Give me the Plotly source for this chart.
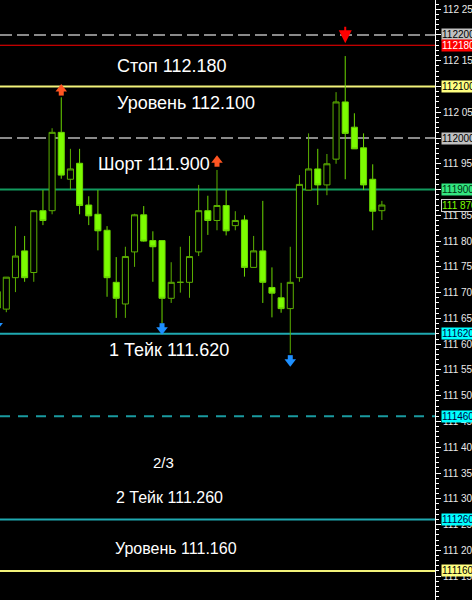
import plotly.graph_objects as go

# ---------------- data ----------------
bar_index = list(range(-1, 42))
opens = [111.702, 111.668, 111.729, 111.781, 111.739, 111.859, 111.859, 112.011, 111.920, 111.951,
         111.870, 111.852, 111.821, 111.720, 111.678, 111.779, 111.851, 111.801, 111.801, 111.689,
         111.720, 111.720, 111.779, 111.859, 111.840, 111.869, 111.830, 111.841, 111.749, 111.781,
         111.710, 111.690, 111.669, 111.729, 111.899, 111.940, 111.909, 111.959, 112.070, 112.021,
         111.981, 111.920, 111.859]
highs = [111.715, 111.730, 111.829, 111.810, 111.859, 111.899, 112.019, 112.079, 111.979, 111.979,
         111.887, 111.899, 111.829, 111.769, 111.789, 111.853, 111.868, 111.819, 111.801, 111.759,
         111.789, 111.810, 111.909, 111.888, 111.938, 111.899, 111.858, 111.850, 111.810, 111.878,
         111.749, 111.719, 111.789, 111.928, 112.009, 111.979, 111.969, 112.089, 112.159, 112.048,
         112.009, 111.949, 111.878]
lows = [111.653, 111.662, 111.701, 111.721, 111.721, 111.831, 111.852, 111.921, 111.900, 111.852,
        111.831, 111.782, 111.692, 111.651, 111.651, 111.750, 111.799, 111.721, 111.640, 111.680,
        111.700, 111.690, 111.771, 111.812, 111.821, 111.811, 111.821, 111.731, 111.749, 111.680,
        111.652, 111.661, 111.582, 111.721, 111.899, 111.870, 111.889, 111.950, 111.920, 111.979,
        111.899, 111.821, 111.841]
closes = [111.670, 111.730, 111.771, 111.729, 111.859, 111.840, 112.011, 111.928, 111.940, 111.869,
          111.849, 111.820, 111.729, 111.689, 111.770, 111.851, 111.800, 111.789, 111.689, 111.720,
          111.720, 111.770, 111.859, 111.840, 111.869, 111.820, 111.840, 111.749, 111.781, 111.720,
          111.699, 111.669, 111.720, 111.910, 111.940, 111.909, 111.950, 112.070, 112.009, 111.979,
          111.909, 111.858, 111.870]

level_prices = [112.200, 112.180, 112.100, 112.000, 111.900, 111.620, 111.460, 111.260, 111.160]
level_tags = ["112200", "112180", "112100", "112000", "111900", "111620", "111460", "111260", "111160"]
current_price = 111.870
current_tag = "111 870"

note_texts = ["Стоп 112.180", "Уровень 112.100", "Шорт 111.900", "1 Тейк 111.620",
              "2/3", "2 Тейк 111.260", "Уровень 111.160"]

up_arrow_bars = [6, 23]
up_arrow_prices = [112.093, 111.955]
down_arrow_bars = [-1, 17, 31]
down_arrow_prices = [111.638, 111.630, 111.568]
sell_arrow_bar = 37
sell_arrow_price = 112.184

tick_values = [111.15, 111.20, 111.25, 111.30, 111.35, 111.40, 111.45, 111.50, 111.55, 111.60,
               111.65, 111.70, 111.75, 111.80, 111.85, 111.90, 111.95, 112.00, 112.05, 112.10,
               112.15, 112.20, 112.25]
tick_labels = ["111 150", "111 200", "111 250", "111 300", "111 350", "111 400", "111 450",
               "111 500", "111 550", "111 600", "111 650", "111 700", "111 750", "111 800",
               "111 850", "111 900", "111 950", "112 000", "112 050", "112 100", "112 150",
               "112 200", "112 250"]

# ---------------- styles ----------------
W, H = 472, 600
PLOT_W = 435
PX_PER_UNIT = 515.4
level_styles = [
    dict(color="#8a8a8a", width=2, dash="12px,5px"),
    dict(color="#ff0000", width=1, dash="solid"),
    dict(color="#f2f27a", width=2, dash="solid"),
    dict(color="#8a8a8a", width=2, dash="12px,5px"),
    dict(color="#129a5e", width=2, dash="solid"),
    dict(color="#1fa8b0", width=2, dash="solid"),
    dict(color="#1a9aa0", width=2, dash="10px,8px"),
    dict(color="#1fa8b0", width=2, dash="solid"),
    dict(color="#f2f27a", width=2, dash="solid"),
]
tag_styles = [
    dict(bg="#c0c0c0", fg="#000000"),
    dict(bg="#ff0000", fg="#ffffff"),
    dict(bg="#ffff80", fg="#000000"),
    dict(bg="#c0c0c0", fg="#000000"),
    dict(bg="#33e680", fg="#003010"),
    dict(bg="#00ffff", fg="#000040"),
    dict(bg="#00ffff", fg="#000040"),
    dict(bg="#00ffff", fg="#000040"),
    dict(bg="#ffff80", fg="#000000"),
]
note_pos = [(171.5, 66, 18), (185.5, 103, 18), (154, 164, 18), (168.5, 350, 18),
            (163.5, 462, 15), (169, 497, 16), (175.5, 548, 16)]

fig = go.Figure()

fig.add_trace(go.Candlestick(
    x=bar_index, open=opens, high=highs, low=lows, close=closes,
    increasing=dict(line=dict(color="#5cb000", width=1), fillcolor="#000000"),
    decreasing=dict(line=dict(color="#6cd800", width=1), fillcolor="#7cfc00"),
    whiskerwidth=0, showlegend=False, hoverinfo="skip",
))

dy = 1.0 / PX_PER_UNIT
# up arrows (orange): stem + head
fig.add_trace(go.Scatter(
    x=up_arrow_bars, y=[p - 3 * dy for p in up_arrow_prices], mode="markers",
    marker=dict(symbol="square", size=5, color="#ff5522", line=dict(width=0)),
    showlegend=False, hoverinfo="skip"))
fig.add_trace(go.Scatter(
    x=up_arrow_bars, y=[p + 1 * dy for p in up_arrow_prices], mode="markers",
    marker=dict(symbol="triangle-up", size=10, color="#ff5522", line=dict(width=0)),
    showlegend=False, hoverinfo="skip"))
# down arrows (blue)
fig.add_trace(go.Scatter(
    x=down_arrow_bars, y=[p + 3 * dy for p in down_arrow_prices], mode="markers",
    marker=dict(symbol="square", size=5, color="#1e90ff", line=dict(width=0)),
    showlegend=False, hoverinfo="skip"))
fig.add_trace(go.Scatter(
    x=down_arrow_bars, y=[p - 1 * dy for p in down_arrow_prices], mode="markers",
    marker=dict(symbol="triangle-down", size=10, color="#1e90ff", line=dict(width=0)),
    showlegend=False, hoverinfo="skip"))

shapes = []
for p, st in zip(level_prices, level_styles):
    shapes.append(dict(type="line", xref="paper", x0=0, x1=1, yref="y", y0=p, y1=p,
                       line=dict(color=st["color"], width=st["width"], dash=st["dash"]),
                       layer="below"))

annotations = []
for (px, py, fs), t in zip(note_pos, note_texts):
    annotations.append(dict(text=t, xref="paper", yref="paper", x=px / PLOT_W, y=1 - py / H,
                            xanchor="center", yanchor="middle", showarrow=False,
                            font=dict(color="#ffffff", size=fs, family="Arial, Liberation Sans")))

for p, t, st in zip(level_prices, level_tags, tag_styles):
    annotations.append(dict(text=t, xref="paper", x=1, xanchor="left", xshift=6,
                            yref="y", y=p, yanchor="middle", showarrow=False,
                            bgcolor=st["bg"], borderpad=0,
                            font=dict(color=st["fg"], size=10, family="Arial, Liberation Sans")))
annotations.append(dict(text=current_tag, xref="paper", x=1, xanchor="left", xshift=6,
                        yref="y", y=current_price, yanchor="middle", showarrow=False,
                        bgcolor="#000000", bordercolor="#d0d0d0", borderwidth=1, borderpad=0,
                        font=dict(color="#7cfc00", size=10, family="Arial, Liberation Sans")))

# sell arrow (red, thin)
annotations.append(dict(text="", x=sell_arrow_bar, y=sell_arrow_price, xref="x", yref="y",
                        showarrow=True, ax=0, ay=-18, arrowhead=2, arrowsize=1.3,
                        arrowwidth=2, arrowcolor="#ff0000"))

fig.update_layout(
    width=W, height=H,
    margin=dict(l=0, r=W - PLOT_W, t=0, b=0, autoexpand=False),
    paper_bgcolor="#000000", plot_bgcolor="#000000",
    showlegend=False, hovermode=False,
    boxgap=0.34, boxgroupgap=0,
    shapes=shapes, annotations=annotations,
    xaxis=dict(visible=False, range=[-0.688, 46.80], rangeslider=dict(visible=False),
               showgrid=False, zeroline=False, automargin=False),
    yaxis=dict(side="right", range=[111.1036, 112.2678], showgrid=False, zeroline=False,
               automargin=False,
               tickmode="array", tickvals=tick_values, ticktext=tick_labels,
               ticks="outside", ticklen=5, tickcolor="#ffffff", tickwidth=1,
               showline=True, linecolor="#ffffff", linewidth=1,
               tickfont=dict(color="#e8e8e8", size=10, family="Arial, Liberation Sans"),
               minor=dict(tickmode="linear", tick0=111.10, dtick=0.01, ticks="outside",
                          ticklen=3, tickcolor="#ffffff", tickwidth=1)),
)

fig.write_html("out.html", config={"displayModeBar": False},
               post_script="document.body.style.margin='0';document.body.style.background='#000';")
